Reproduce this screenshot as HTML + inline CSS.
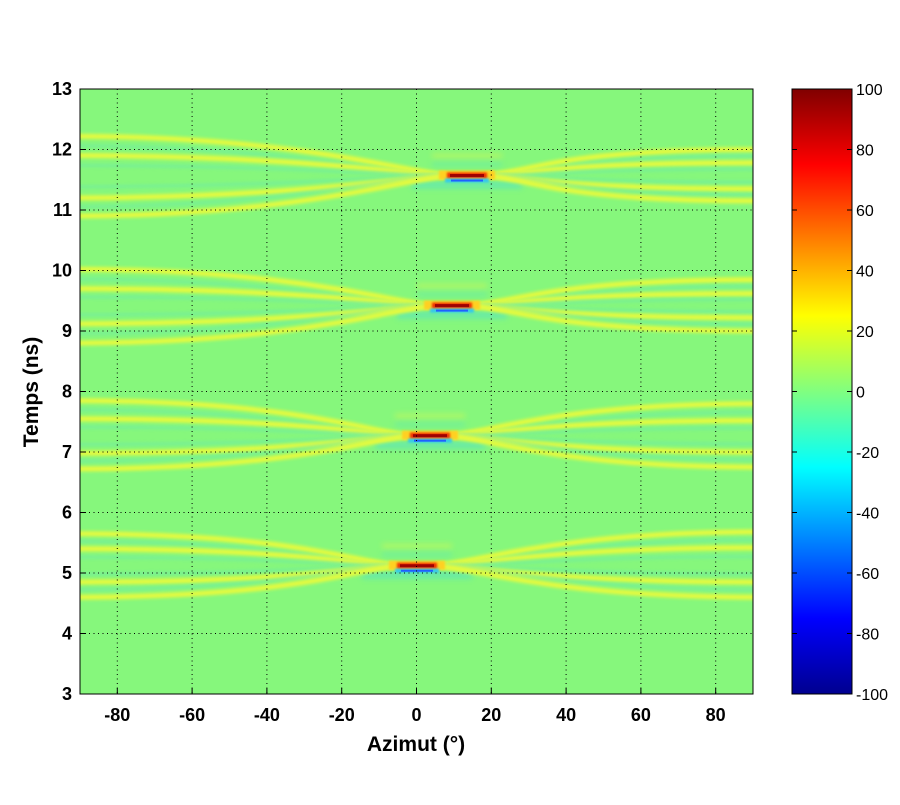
<!DOCTYPE html>
<html><head><meta charset="utf-8"><style>
body{margin:0;background:#fff;width:900px;height:800px;overflow:hidden}
svg text{font-family:"Liberation Sans",Arial,sans-serif}
</style></head><body>
<svg id="s" width="900" height="800" xmlns="http://www.w3.org/2000/svg">
<defs>
<linearGradient id="jet" x1="0" y1="1" x2="0" y2="0">
<stop offset="0" stop-color="#00008f"/>
<stop offset="0.125" stop-color="#0000ff"/>
<stop offset="0.375" stop-color="#00ffff"/>
<stop offset="0.5" stop-color="#80ff80"/>
<stop offset="0.625" stop-color="#ffff00"/>
<stop offset="0.875" stop-color="#ff0000"/>
<stop offset="1" stop-color="#800000"/>
</linearGradient>
<clipPath id="c"><rect x="80" y="89" width="673" height="605"/></clipPath>
<filter id="b" x="-10%" y="-50%" width="120%" height="200%"><feGaussianBlur stdDeviation="1.6"/></filter>
<filter id="b2" x="-20%" y="-100%" width="140%" height="300%"><feGaussianBlur stdDeviation="1"/></filter>
<filter id="b3" x="-30%" y="-200%" width="160%" height="500%"><feGaussianBlur stdDeviation="3"/></filter>
</defs>
<rect x="80" y="89" width="673" height="605" fill="#86f77c"/>
<g id="g" clip-path="url(#c)"></g>
<g id="grid" stroke="#000" stroke-width="1" stroke-dasharray="1,3.5"></g>
<rect x="80" y="89" width="673" height="605" fill="none" stroke="#000" stroke-width="1"/>
<g id="ax" font-size="18" font-weight="bold"></g>
<text x="416" y="751" font-size="21" font-weight="bold" text-anchor="middle">Azimut (°)</text>
<text transform="translate(38,392) rotate(-90)" font-size="21" font-weight="bold" text-anchor="middle">Temps (ns)</text>
<rect x="792" y="89" width="60" height="605" fill="url(#jet)" stroke="#000" stroke-width="1"/>
<g id="cb" font-size="16"></g>
</svg>
<script>
var NS="http://www.w3.org/2000/svg";
function el(p,t,a,txt){var e=document.createElementNS(NS,t);for(var k in a)e.setAttribute(k,a[k]);if(txt!=null)e.textContent=txt;p.appendChild(e);return e;}
var X=function(d){return 416.5+3.74*d}, Y=function(t){return 89+(13-t)*60.5};
var g=document.getElementById('g');
var groups=[
 {c:417,t:5.12,L:[5.65,5.4,5.12,4.85,4.6],R:[5.68,5.42,5.12,4.85,4.6]},
 {c:430,t:7.27,L:[7.85,7.55,7.27,6.98,6.72],R:[7.8,7.52,7.27,7.0,6.75]},
 {c:452,t:9.42,L:[10.02,9.7,9.42,9.12,8.8],R:[9.85,9.62,9.42,9.22,9.0]},
 {c:467,t:11.57,L:[12.22,11.9,11.57,11.2,10.9],R:[12.0,11.78,11.57,11.35,11.15]}
];
groups.forEach(function(G){
 var yf=Y(G.t);
 el(g,'rect',{x:G.c-55,y:yf+6,width:110,height:7,fill:'#5ee6b4',filter:'url(#b3)',opacity:0.8});
 el(g,'rect',{x:G.c-35,y:yf-22,width:70,height:5,fill:'#d8f850',filter:'url(#b3)',opacity:0.5});
 el(g,'rect',{x:G.c-35,y:yf-14,width:70,height:5,fill:'#60e8b0',filter:'url(#b3)',opacity:0.5});
 for(var i=0;i<5;i++){
  var yl=Y(G.L[i]),yr=Y(G.R[i]);
  var ym=yf+(i-2)*3;
  var d='M70,'+yl+' C'+(X(-35))+','+yl+' '+(G.c-70)+','+ym+' '+(G.c-20)+','+yf;
  el(g,'path',{d:d,fill:'none',stroke:'#e6fa3c',"stroke-width":5,filter:'url(#b)'});
  var d2='M'+(G.c+20)+','+yf+' C'+(G.c+70)+','+ym+' '+(X(40))+','+yr+' 760,'+yr;
  el(g,'path',{d:d2,fill:'none',stroke:'#e6fa3c',"stroke-width":5,filter:'url(#b)'});
  if(i<4){
   var yl2=(yl+Y(G.L[i+1]))/2, yr2=(yr+Y(G.R[i+1]))/2;
   el(g,'path',{d:'M70,'+yl2+' C'+X(-35)+','+yl2+' '+(G.c-70)+','+yf+' '+(G.c-25)+','+yf,fill:'none',stroke:'#6ceaa8',"stroke-width":3,opacity:0.6,filter:'url(#b)'});
   el(g,'path',{d:'M'+(G.c+25)+','+yf+' C'+(G.c+70)+','+yf+' '+X(40)+','+yr2+' 760,'+yr2,fill:'none',stroke:'#6ceaa8',"stroke-width":3,opacity:0.6,filter:'url(#b)'});
  }
 }
 el(g,'rect',{x:G.c-28,y:yf-5,width:56,height:9,fill:'#ffd020',filter:'url(#b2)'});
 el(g,'rect',{x:G.c-20,y:yf-3,width:40,height:6,fill:'#f03000',filter:'url(#b2)'});
 el(g,'rect',{x:G.c-17,y:yf-1.5,width:34,height:3,fill:'#a00000'});
 el(g,'rect',{x:G.c-22,y:yf+3,width:44,height:4,fill:'#30c8f0',filter:'url(#b2)'});
 el(g,'rect',{x:G.c-16,y:yf+4,width:32,height:2,fill:'#2060ff'});
});
var gr=document.getElementById('grid'),ax=document.getElementById('ax');
for(var d=-80;d<=80;d+=20){var x=X(d);el(gr,'line',{x1:x,y1:89,x2:x,y2:694});
 el(gr,'line',{x1:x,y1:694,x2:x,y2:688,"stroke-dasharray":"none"});
 el(ax,'text',{x:x,y:721,"text-anchor":"middle"},d);}
for(var t=3;t<=13;t++){var y=Y(t);if(t>3&&t<13){el(gr,'line',{x1:80,y1:y,x2:753,y2:y});}
 el(gr,'line',{x1:80,y1:y,x2:86,y2:y,"stroke-dasharray":"none"});
 el(ax,'text',{x:72,y:y+6,"text-anchor":"end"},t);}
var cb=document.getElementById('cb');
for(var v=-100;v<=100;v+=20){var y=694-(v+100)/200*605;
 el(cb,'text',{x:856,y:y+6},v);
 el(cb,'line',{x1:792,y1:y,x2:797,y2:y,stroke:'#000'});el(cb,'line',{x1:847,y1:y,x2:852,y2:y,stroke:'#000'});}
</script>
</body></html>
